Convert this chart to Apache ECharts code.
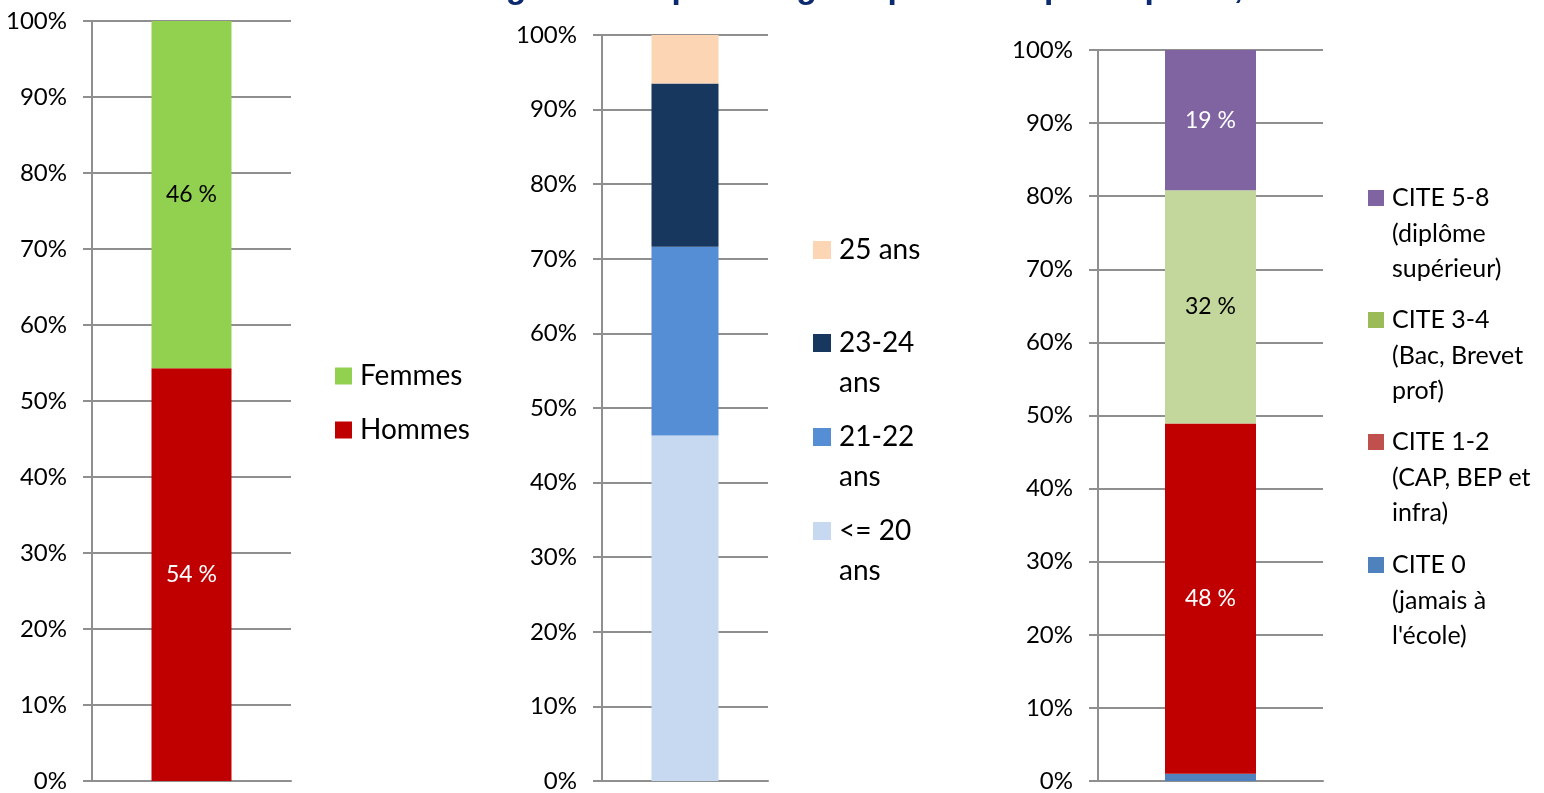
<!DOCTYPE html>
<html>
<head>
<meta charset="utf-8">
<script src="https://cdn.jsdelivr.net/npm/echarts@6/dist/echarts.min.js"></script>
<style>
html,body{margin:0;padding:0;background:#fff;}
#chart{width:1544px;height:793px;}
</style>
</head>
<body>
<div id="chart"></div>
<script>
// ---- data ----
const titleText = 'Pourcentage de chaque catégorie parmi les participants, en %';
const yTicks = [0, 10, 20, 30, 40, 50, 60, 70, 80, 90, 100];

const genreNames = ['Hommes', 'Femmes'];
const genreValues = [54.3, 45.7];
const genreLegend = ['Hommes', 'Femmes'];

const ageNames = ['<= 20 ans', '21-22 ans', '23-24 ans', '25 ans'];
const ageValues = [46.3, 25.3, 21.9, 6.5];
const ageLegend = ['<= 20\nans', '21-22\nans', '23-24\nans', '25 ans'];

const citeNames = ['CITE 0', 'CITE 1-2', 'CITE 3-4', 'CITE 5-8'];
const citeValues = [1.0, 47.9, 31.9, 19.2];
const citeLegend = ["CITE 0\n(jamais à\nl'école)", 'CITE 1-2\n(CAP, BEP et\ninfra)', 'CITE 3-4\n(Bac, Brevet\nprof)', 'CITE 5-8\n(diplôme\nsupérieur)'];

// ---- styles ----
const FONT = 'Lato';
const GRAY = '#8f8f8f';
const genreColors = ['#C00000', '#92D050'];
const genreLabelColors = ['#ffffff', '#000000'];
const ageColors = ['#C6D9F1', '#558ED5', '#17375E', '#FCD5B5'];
const citeColors = ['#4F81BD', '#C00000', '#C3D69B', '#8064A2'];
const citeLegendColors = ['#4F81BD', '#C0504D', '#9BBB59', '#8064A2'];
const citeLabelColors = ['#ffffff', '#ffffff', '#000000', '#ffffff'];

const grids = [
  {left: 92, top: 21, width: 199, height: 763},
  {left: 602, top: 35, width: 166, height: 749},
  {left: 1098, top: 50, width: 225, height: 734}
];

const xAxes = grids.map((g, i) => ({
  type: 'category', gridIndex: i, data: [''],
  axisLine: {show: true, lineStyle: {color: GRAY, width: 2}},
  axisTick: {show: false}, axisLabel: {show: false}
}));
const yAxes = grids.map((g, i) => ({
  type: 'value', gridIndex: i, min: yTicks[0], max: yTicks[yTicks.length - 1], interval: yTicks[1] - yTicks[0],
  axisLine: {show: true, lineStyle: {color: GRAY, width: 2}},
  axisTick: {show: true, length: 9, lineStyle: {color: GRAY, width: 2}},
  splitLine: {show: true, lineStyle: {color: GRAY, width: 2}},
  axisLabel: {formatter: '{value}%', fontFamily: FONT, fontSize: 24, color: '#000', margin: 25}
}));

function pctLabel(color) {
  return {show: true, position: 'inside', color: color, fontFamily: FONT, fontSize: 23,
    formatter: p => Math.round(p.value) + ' %'};
}

const series = [];
genreNames.forEach((n, i) => series.push({
  name: n, type: 'bar', stack: 'g', xAxisIndex: 0, yAxisIndex: 0, barWidth: 80,
  data: [genreValues[i]], itemStyle: {color: genreColors[i]}, label: pctLabel(genreLabelColors[i])
}));
ageNames.forEach((n, i) => series.push({
  name: n, type: 'bar', stack: 'a', xAxisIndex: 1, yAxisIndex: 1, barWidth: 67,
  data: [ageValues[i]], itemStyle: {color: ageColors[i]}
}));
citeNames.forEach((n, i) => series.push({
  name: n, type: 'bar', stack: 'c', xAxisIndex: 2, yAxisIndex: 2, barWidth: 91,
  data: [citeValues[i]], itemStyle: {color: citeColors[i]},
  label: i === 0 ? {show: false} : pctLabel(citeLabelColors[i])
}));

// legend helper: icon aligned with first text line
function legendItem(name, text, color, left, centerY, icon, fontSize, lh) {
  const nLines = text.split('\n').length;
  const total = 2 * nLines - 1;
  const shown = '\n'.repeat(nLines - 1) + text;
  return {
    data: [{name: name, itemStyle: {color: color}}],
    orient: 'vertical', left: left, top: centerY - total * lh / 2, padding: 0,
    itemWidth: icon, itemHeight: icon, icon: 'rect',
    formatter: () => shown,
    textStyle: {fontFamily: FONT, fontSize: fontSize, lineHeight: lh, color: '#000', padding: [0, 0, 0, 3]}
  };
}
const legends = [];
const genreCenters = [430, 376];
genreNames.forEach((n, i) => legends.push(legendItem(n, genreLegend[i], genreColors[i], 335, genreCenters[i], 17, 28, 34)));
const ageCenters = [531, 437, 343, 250];
ageNames.forEach((n, i) => legends.push(legendItem(n, ageLegend[i], ageColors[i], 813, ageCenters[i], 18, 28, 40)));
const citeCenters = [565, 442, 320, 198];
citeNames.forEach((n, i) => legends.push(legendItem(n, citeLegend[i], citeLegendColors[i], 1368, citeCenters[i], 16, 25, 35.5)));

const chart = echarts.init(document.getElementById('chart'));
chart.setOption({
  animation: false,
  backgroundColor: '#fff',
  title: {text: titleText, left: 342, top: -28, padding: 0,
    textStyle: {fontFamily: 'Liberation Sans', fontWeight: 'bold', fontSize: 33.5, color: '#0b2a6f'}},
  grid: grids,
  xAxis: xAxes,
  yAxis: yAxes,
  legend: legends,
  series: series
});
</script>
</body>
</html>
